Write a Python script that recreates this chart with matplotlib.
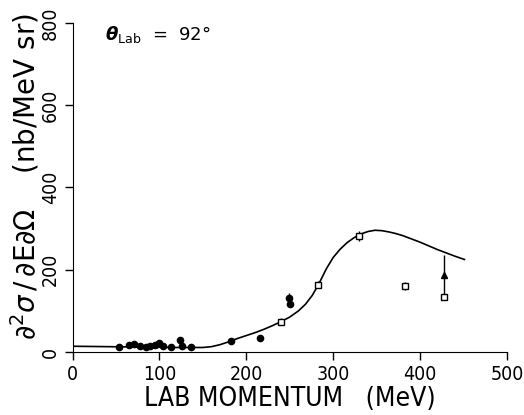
import matplotlib.pyplot as plt

# -- data ------------------------------------------------------------
# filled circles
circ_p = [54, 65, 71, 78, 85, 89, 95, 100, 104, 113, 124, 126, 136, 182, 216, 249, 250]
circ_s = [13, 17, 19, 15, 13, 14, 16, 21, 14, 12, 29, 14, 13, 27, 33, 131, 117]
circ_e = [0, 0, 0, 0, 0, 0, 0, 0, 0, 0, 0, 0, 0, 0, 0, 12, 0]

# open squares
sq_p = [240, 282, 330, 383, 428]
sq_s = [74, 164, 283, 161, 133]
sq_e = [9, 9, 12, 10, 6]

# triangle
tri_p = [427]
tri_s = [187]
tri_e = [48]

# calculation
th_p = [0, 40, 80, 120, 150, 160, 170, 180, 190, 200, 210, 220, 230, 240, 250,
        260, 268, 276, 284, 292, 300, 308, 316, 324, 332, 340, 348, 356, 364,
        372, 380, 390, 400, 410, 420, 430, 440, 451]
th_s = [14, 13, 12, 11, 11, 13, 18, 25, 33, 40, 47, 55, 64, 74, 85,
        100, 116, 138, 168, 202, 230, 250, 266, 278, 287, 293, 296, 295, 292,
        288, 283, 275, 267, 258, 249, 241, 233, 225]

xticks = [0, 100, 200, 300, 400, 500]
yticks = [0, 200, 400, 600, 800]

# -- plot -------------------------------------------------------------
plt.rcParams['font.family'] = 'DejaVu Sans'

fig = plt.figure(figsize=(5.24, 4.15), dpi=100)
ax = fig.add_axes([0.1384, 0.1518, 0.8292, 0.7928])

ax.plot(th_p, th_s, color='black', lw=1.2)
ax.errorbar(circ_p, circ_s, yerr=circ_e, fmt='o', color='black', ms=4.5,
            elinewidth=1, capsize=0)
ax.errorbar(sq_p, sq_s, yerr=sq_e, fmt='s', mfc='white', mec='black', ecolor='black',
            ms=5, mew=1, elinewidth=1, capsize=0)
ax.errorbar(tri_p, tri_s, yerr=tri_e, fmt='^', color='black', ms=5,
            elinewidth=1, capsize=0)

ax.set_xlim(0, 500)
ax.set_ylim(0, 800)
ax.set_xticks(xticks)
ax.set_yticks(yticks)
ax.set_xticklabels([str(t) for t in xticks], fontsize=14, stretch='condensed')
ax.set_yticklabels([str(t) for t in yticks], fontsize=14, stretch='condensed',
                   rotation=90, va='center')
ax.tick_params(direction='out', length=6, width=1, pad=3)
ax.spines['top'].set_visible(False)
ax.spines['right'].set_visible(False)

ax.set_xlabel('LAB MOMENTUM   (MeV)', fontsize=19, stretch='condensed', labelpad=2)
fig.text(25 / 524, 1 - 177 / 415,
         r'$\partial^2\sigma\,/\,\partial \mathrm{E}\partial\Omega$    (nb/MeV sr)',
         fontsize=20, rotation=90, ha='center', va='center')

ax.text(0.075, 0.965, r'$\boldsymbol{\theta}_{\rm Lab}$  =  92°', transform=ax.transAxes,
        fontsize=13, va='center', ha='left')

fig.savefig('out.png', dpi=100)
